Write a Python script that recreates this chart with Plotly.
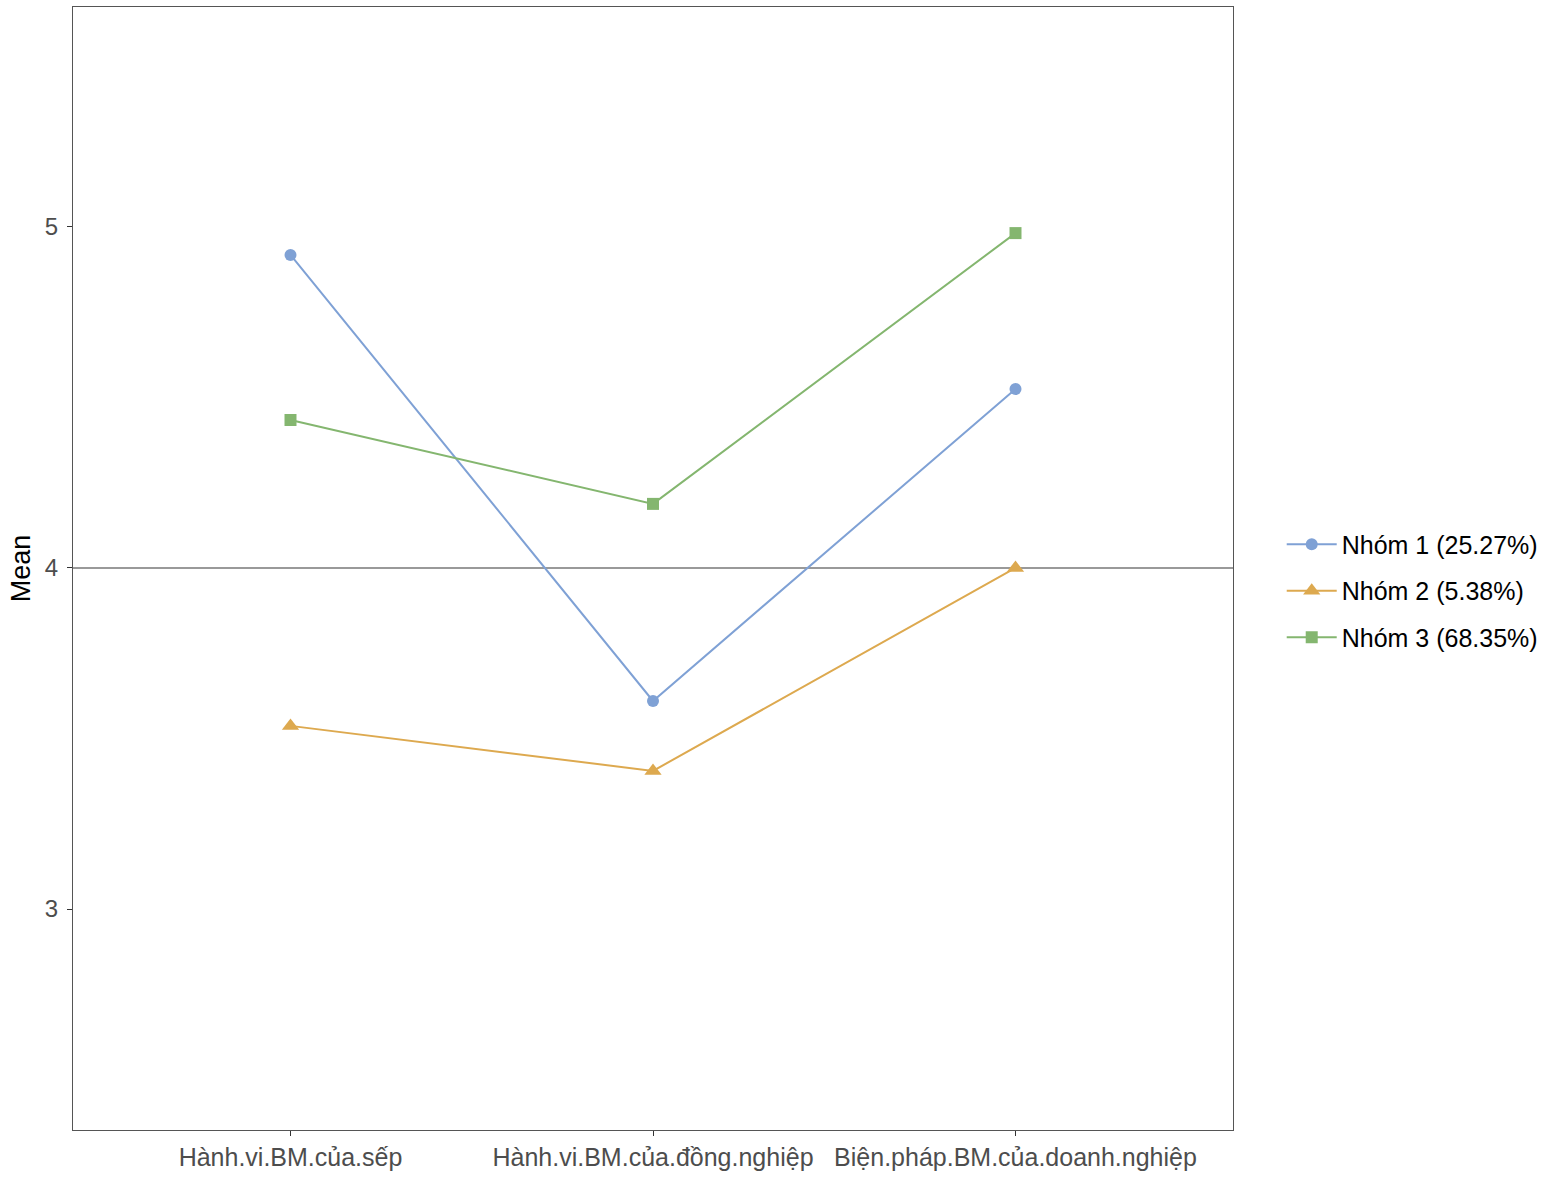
import plotly.graph_objects as go

categories = ["Hành.vi.BM.của.sếp", "Hành.vi.BM.của.đồng.nghiệp", "Biện.pháp.BM.của.doanh.nghiệp"]
series_names = ["Nhóm 1 (25.27%)", "Nhóm 2 (5.38%)", "Nhóm 3 (68.35%)"]
nhom1 = [4.918, 3.610, 4.525]
nhom2 = [3.537, 3.405, 4.000]
nhom3 = [4.434, 4.188, 4.982]
colors = ["#7FA1D5", "#DDA94F", "#84B66F"]
symbols = ["circle", "triangle-up", "square"]
sizes = [12, 15, 12]
y_ticks = [3, 4, 5]
ref_line = 4

fig = go.Figure()
fig.add_hline(y=ref_line, line=dict(color="#999999", width=2), layer="below")
for name, vals, c, s, sz in zip(series_names, [nhom1, nhom2, nhom3], colors, symbols, sizes):
    fig.add_trace(go.Scatter(
        x=categories, y=vals, mode="lines+markers", name=name, legendgroup=name,
        line=dict(color=c, width=2),
        marker=dict(symbol=s, size=sz, color=c),
    ))

fig.update_layout(
    width=1552, height=1184,
    margin=dict(l=73, r=319, t=7, b=54),
    plot_bgcolor="white", paper_bgcolor="white",
    font=dict(family="Liberation Sans, Arial, sans-serif"),
    legend=dict(x=1.042, y=0.48, xanchor="left", yanchor="middle",
                font=dict(size=25, color="black"), tracegroupgap=11,
                itemwidth=50),
    showlegend=True,
)
fig.update_xaxes(
    type="category", range=[-0.6, 2.6],
    showline=True, mirror=True, linecolor="#555555", linewidth=1,
    showgrid=False, ticks="outside", ticklen=5, tickcolor="#333333",
    tickfont=dict(size=25, color="#4D4D4D"), zeroline=False,
)
fig.update_yaxes(
    range=[2.352, 5.645], tickvals=y_ticks,
    showline=True, mirror=True, linecolor="#555555", linewidth=1,
    showgrid=False, ticks="outside", ticklen=5, tickcolor="#333333",
    tickfont=dict(size=24, color="#4D4D4D"), zeroline=False, ticklabelstandoff=4,
    title=dict(text="Mean", font=dict(size=27, color="black"), standoff=6),
)

fig.write_html("out.html")
